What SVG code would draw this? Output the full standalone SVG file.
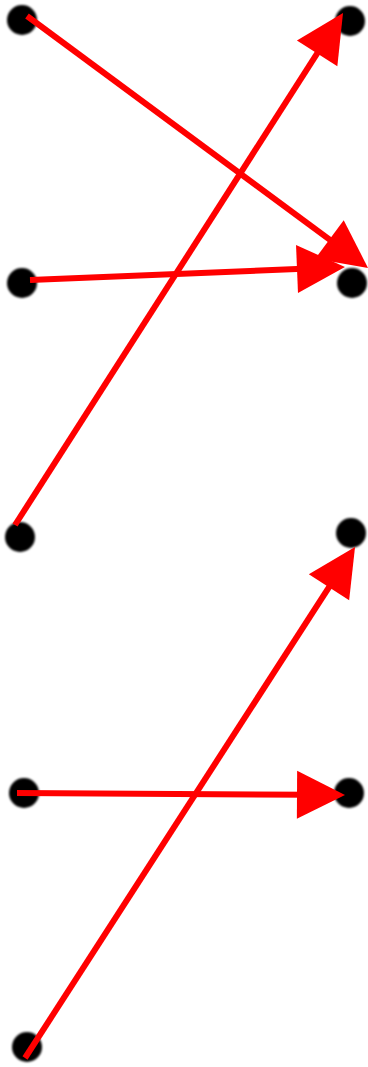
<svg xmlns="http://www.w3.org/2000/svg" width="368" height="1067" viewBox="0 0 368 1067">
<style>
.dot{fill:#000;filter:url(#blur)}
.edge{stroke:#ff0000;stroke-width:6;fill:none;marker-end:url(#arrow)}
</style>
<defs>
<filter id="blur" x="-30%" y="-30%" width="160%" height="160%"><feGaussianBlur stdDeviation="1.3"/></filter>
<marker id="arrow" viewBox="0 0 8 8" refX="2" refY="4" markerWidth="8" markerHeight="8" orient="auto" markerUnits="strokeWidth" overflow="visible">
<path d="M0,0 L8,4 L0,8 z" fill="#ff0000"/>
</marker>
</defs>
<g id="n1"><circle class="dot" cx="22" cy="20" r="15"/></g>
<g id="n2"><circle class="dot" cx="350" cy="21" r="15"/></g>
<g id="n3"><circle class="dot" cx="22" cy="283" r="15"/></g>
<g id="n4"><circle class="dot" cx="352" cy="283" r="15"/></g>
<g id="n5"><circle class="dot" cx="20" cy="537" r="15"/></g>
<g id="n6"><circle class="dot" cx="351" cy="533" r="15"/></g>
<g id="n7"><circle class="dot" cx="24" cy="793" r="15"/></g>
<g id="n8"><circle class="dot" cx="349" cy="793" r="15"/></g>
<g id="n9"><circle class="dot" cx="27" cy="1047" r="15"/></g>
<g id="connectors">
<line class="edge" x1="27" y1="16" x2="339.1" y2="246.6"/>
<line class="edge" x1="30" y1="280" x2="309" y2="268.5"/>
<line class="edge" x1="15" y1="525" x2="323.6" y2="43.3"/>
<line class="edge" x1="25" y1="1058" x2="335.5" y2="577.2"/>
<line class="edge" x1="17" y1="793" x2="309" y2="794.8"/>
</g>
</svg>
